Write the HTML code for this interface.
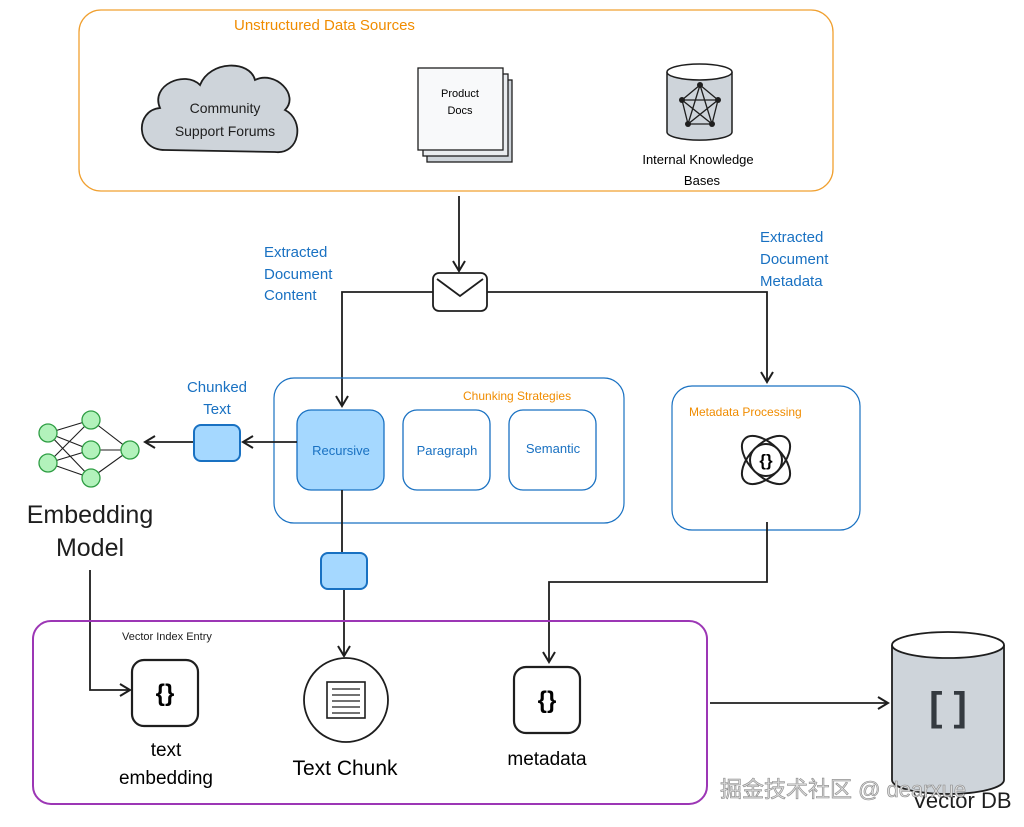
<!DOCTYPE html>
<html><head><meta charset="utf-8"><style>
body{margin:0;background:#fff;width:1024px;height:822px;overflow:hidden}
svg text{font-family:"Liberation Sans","Noto Sans CJK SC",sans-serif}
</style></head><body>
<svg width="1024" height="822" viewBox="0 0 1024 822" xmlns="http://www.w3.org/2000/svg">
<defs>
<marker id="ar" markerWidth="14" markerHeight="14" refX="11" refY="7" orient="auto" markerUnits="userSpaceOnUse">
<path d="M1,1 L11,7 L1,13" fill="none" stroke="#1e1e1e" stroke-width="2"/></marker>
</defs>
<rect x="79" y="10" width="754" height="181" rx="22" fill="none" stroke="#f0a030" stroke-width="1.3"/>
<text x="234" y="30" font-size="15" fill="#f08c00">Unstructured Data Sources</text>
<path d="M165,150 C135,150 135,110 160,108 C150,85 185,70 200,85 C210,60 250,60 255,80 C275,70 300,95 285,110 C305,120 300,155 275,152 Z" fill="#ced4da" stroke="#1e1e1e" stroke-width="1.8"/>
<text x="225" y="113" font-size="14" text-anchor="middle" fill="#1e1e1e">Community</text>
<text x="225" y="136" font-size="14" text-anchor="middle" fill="#1e1e1e">Support Forums</text>
<rect x="427" y="80" width="85" height="82" fill="#ced4da" stroke="#1e1e1e" stroke-width="1.3"/>
<rect x="423" y="74" width="85" height="82" fill="#e9ecef" stroke="#1e1e1e" stroke-width="1.3"/>
<rect x="418" y="68" width="85" height="82" fill="#f8f9fa" stroke="#1e1e1e" stroke-width="1.3"/>
<text x="460" y="97" font-size="11" text-anchor="middle">Product</text>
<text x="460" y="114" font-size="11" text-anchor="middle">Docs</text>
<path d="M667,72 L667,132 A32,8 0 0 0 732,132 L732,72" fill="#ced4da" stroke="#1e1e1e" stroke-width="1.5"/>
<ellipse cx="699.5" cy="72" rx="32.5" ry="8" fill="#fff" stroke="#1e1e1e" stroke-width="1.5"/>
<g stroke="#1e1e1e" stroke-width="1.3" fill="none">
<polygon points="700,85 718,100 712,124 688,124 682,100"/>
<polyline points="700,85 712,124 682,100 718,100 688,124 700,85"/>
</g>
<g fill="#1e1e1e"><circle cx="700" cy="85" r="3"/><circle cx="718" cy="100" r="3"/><circle cx="712" cy="124" r="3"/><circle cx="688" cy="124" r="3"/><circle cx="682" cy="100" r="3"/></g>
<text x="698" y="164" font-size="13" text-anchor="middle">Internal Knowledge</text>
<text x="702" y="185" font-size="13" text-anchor="middle">Bases</text>
<g stroke="#1e1e1e" stroke-width="1.8" fill="none">
<line x1="459" y1="196" x2="459" y2="271" marker-end="url(#ar)"/>
<polyline points="433,292 342,292 342,406" marker-end="url(#ar)"/>
<polyline points="487,292 767,292 767,382" marker-end="url(#ar)"/>
</g>
<rect x="433" y="273" width="54" height="38" rx="6" fill="#fff" stroke="#1e1e1e" stroke-width="1.8"/>
<polyline points="437,279 460,296 483,279" fill="none" stroke="#1e1e1e" stroke-width="1.8"/>
<g font-size="15" fill="#1971c2">
<text x="264" y="257">Extracted</text><text x="264" y="279">Document</text><text x="264" y="300">Content</text>
<text x="760" y="242">Extracted</text><text x="760" y="264">Document</text><text x="760" y="286">Metadata</text>
<text x="217" y="392" text-anchor="middle">Chunked</text><text x="217" y="414" text-anchor="middle">Text</text>
</g>
<rect x="274" y="378" width="350" height="145" rx="20" fill="none" stroke="#1971c2" stroke-width="1.2"/>
<text x="463" y="400" font-size="12" fill="#f08c00">Chunking Strategies</text>
<rect x="297" y="410" width="87" height="80" rx="14" fill="#a5d8ff" stroke="#1971c2" stroke-width="1.3"/>
<rect x="403" y="410" width="87" height="80" rx="14" fill="#fff" stroke="#1971c2" stroke-width="1.3"/>
<rect x="509" y="410" width="87" height="80" rx="14" fill="#fff" stroke="#1971c2" stroke-width="1.3"/>
<text x="341" y="455" font-size="13" fill="#1971c2" text-anchor="middle">Recursive</text>
<text x="447" y="455" font-size="13" fill="#1971c2" text-anchor="middle">Paragraph</text>
<text x="553" y="453" font-size="13" fill="#1971c2" text-anchor="middle">Semantic</text>
<rect x="672" y="386" width="188" height="144" rx="20" fill="none" stroke="#1971c2" stroke-width="1.2"/>
<text x="689" y="416" font-size="12" fill="#f08c00">Metadata Processing</text>
<g stroke="#1e1e1e" stroke-width="2" fill="none">
<ellipse cx="766" cy="460" rx="30" ry="16" transform="rotate(45 766 460)"/>
<ellipse cx="766" cy="460" rx="30" ry="16" transform="rotate(-45 766 460)"/>
</g>
<circle cx="766" cy="460" r="16" fill="#fff" stroke="#1e1e1e" stroke-width="2"/>
<text x="766" y="466" font-size="17" font-weight="bold" text-anchor="middle">{}</text>
<g stroke="#1e1e1e" stroke-width="1.8" fill="none">
<line x1="297" y1="442" x2="243" y2="442" marker-end="url(#ar)"/>
<line x1="194" y1="442" x2="145" y2="442" marker-end="url(#ar)"/>
<line x1="342" y1="490" x2="342" y2="553"/>
<line x1="344" y1="589" x2="344" y2="656" marker-end="url(#ar)"/>
<polyline points="90,570 90,690 130,690" marker-end="url(#ar)"/>
<polyline points="767,522 767,582 549,582 549,662" marker-end="url(#ar)"/>
<line x1="710" y1="703" x2="888" y2="703" marker-end="url(#ar)"/>
</g>
<rect x="194" y="425" width="46" height="36" rx="7" fill="#a5d8ff" stroke="#1971c2" stroke-width="2"/>
<rect x="321" y="553" width="46" height="36" rx="7" fill="#a5d8ff" stroke="#1971c2" stroke-width="2"/>
<g stroke="#1e1e1e" stroke-width="1.1">
<line x1="48" y1="433" x2="91" y2="420"/><line x1="48" y1="433" x2="91" y2="450"/><line x1="48" y1="433" x2="91" y2="478"/>
<line x1="48" y1="463" x2="91" y2="420"/><line x1="48" y1="463" x2="91" y2="450"/><line x1="48" y1="463" x2="91" y2="478"/>
<line x1="91" y1="420" x2="130" y2="450"/><line x1="91" y1="450" x2="130" y2="450"/><line x1="91" y1="478" x2="130" y2="450"/>
</g>
<g fill="#b2f2bb" stroke="#2f9e44" stroke-width="1.3">
<circle cx="48" cy="433" r="9"/><circle cx="48" cy="463" r="9"/><circle cx="91" cy="420" r="9"/><circle cx="91" cy="450" r="9"/><circle cx="91" cy="478" r="9"/><circle cx="130" cy="450" r="9"/>
</g>
<text x="90" y="523" font-size="25" text-anchor="middle" fill="#1e1e1e">Embedding</text>
<text x="90" y="556" font-size="25" text-anchor="middle" fill="#1e1e1e">Model</text>
<rect x="33" y="621" width="674" height="183" rx="18" fill="none" stroke="#9c36b5" stroke-width="2"/>
<text x="122" y="640" font-size="11" fill="#1e1e1e">Vector Index Entry</text>
<rect x="132" y="660" width="66" height="66" rx="12" fill="#fff" stroke="#1e1e1e" stroke-width="2.2"/>
<text x="165" y="701" font-size="24" font-weight="bold" text-anchor="middle">{}</text>
<text x="166" y="756" font-size="19" text-anchor="middle">text</text>
<text x="166" y="784" font-size="19" text-anchor="middle">embedding</text>
<circle cx="346" cy="700" r="42" fill="#fff" stroke="#1e1e1e" stroke-width="1.8"/>
<rect x="327" y="682" width="38" height="36" fill="#fff" stroke="#1e1e1e" stroke-width="1.6"/>
<g stroke="#1e1e1e" stroke-width="1.3"><line x1="332" y1="689" x2="360" y2="689"/><line x1="332" y1="695" x2="360" y2="695"/><line x1="332" y1="701" x2="360" y2="701"/><line x1="332" y1="707" x2="360" y2="707"/><line x1="332" y1="713" x2="360" y2="713"/></g>
<text x="345" y="775" font-size="21" text-anchor="middle">Text Chunk</text>
<rect x="514" y="667" width="66" height="66" rx="12" fill="#fff" stroke="#1e1e1e" stroke-width="2.2"/>
<text x="547" y="708" font-size="24" font-weight="bold" text-anchor="middle">{}</text>
<text x="547" y="765" font-size="19" text-anchor="middle">metadata</text>
<path d="M892,645 L892,780 A56,14 0 0 0 1004,780 L1004,645" fill="#ced4da" stroke="#1e1e1e" stroke-width="1.8"/>
<ellipse cx="948" cy="645" rx="56" ry="13" fill="#fff" stroke="#1e1e1e" stroke-width="1.8"/>
<text x="948" y="720" font-size="40" font-weight="bold" fill="#343a40" text-anchor="middle">[ ]</text>
<text x="962" y="808" font-size="22" text-anchor="middle" fill="#1e1e1e">Vector DB</text>
<text x="720" y="797" font-size="22" fill="#ddd" stroke="#888" stroke-width="0.6">掘金技术社区 @ dearxue</text>
</svg>
</body></html>
